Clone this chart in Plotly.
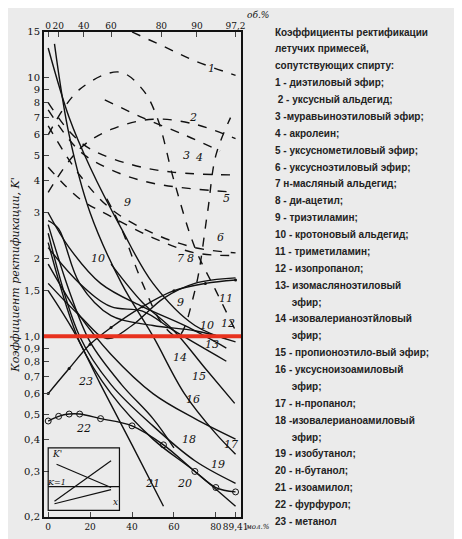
import math
import plotly.graph_objects as go

# mole % (x) and rectification coefficient K' (y) for each curve
curves = {
 "1": ([40,55,70,89.4],[15,13.2,11.6,10.2]),
 "2": ([0,15,30,50,70,89.4],[3.6,5.3,6.3,6.9,6.6,5.8]),
 "3": ([27,45,65,82],[8.2,7.0,6.0,5.2]),
 "4": ([0,10,20,40,60,89.4],[8.0,6.2,5.3,4.6,4.3,4.2]),
 "5": ([0,15,30,50,89.4],[7.5,5.2,4.4,3.9,3.6]),
 "6": ([0,15,30,50,70,89.4],[6.5,4.2,3.1,2.5,2.2,2.1]),
 "7": ([0,15,30,50,70,89.4],[4.5,3.4,2.9,2.4,2.1,2.05]),
 "8": ([0,15,28,40,55,70,89.4],[1.6,1.2,0.98,1.1,1.4,1.6,1.68]),
 "9": ([28,35,45,55,62,70,76,80,87],[3.4,2.6,1.6,1.1,1.0,1.5,3.0,5.0,7.0]),
 "10": ([0,5,15,30,50,70,85],[2.8,2.6,1.6,1.2,1.1,1.05,0.98]),
 "11": ([0,15,34,45,52,60,70,80,89.4],[6.0,9.0,10.5,9.0,7.0,4.0,2.2,1.5,1.05]),
 "12": ([0,10,20,35,50,70,89.4],[13,7,4.5,2.6,1.6,1.1,0.95]),
 "13": ([0,10,25,45,65,85],[3.0,2.2,1.6,1.3,1.1,0.9]),
 "14": ([0,15,30,45,60,85],[2.2,1.6,1.3,1.25,1.05,0.8]),
 "15": ([30,45,60,75,89],[1.9,1.35,1.05,0.75,0.55]),
 "16": ([0,15,30,50,70,89.4],[1.9,1.2,0.85,0.6,0.48,0.4]),
 "17": ([3,10,20,35,50,65,80,89.4],[13.5,6,3,1.6,1.0,0.6,0.42,0.35]),
 "18": ([0,10,20,35,50,60],[2.7,1.5,0.95,0.65,0.48,0.37]),
 "19": ([0,15,30,50,70,89.4],[2.5,1.0,0.65,0.45,0.33,0.27]),
 "20": ([0,15,30,50,70,89.4],[2.3,0.95,0.6,0.4,0.3,0.22]),
 "21": ([0,12,25,40,55],[1.5,1.05,0.65,0.38,0.22]),
 "22": ([0,5,10,15,25,40,55,70,80,89.4],[0.47,0.49,0.5,0.5,0.48,0.45,0.38,0.3,0.26,0.25]),
 "23": ([0,10,20,30,45,60,75,89.4],[0.6,0.75,0.93,1.08,1.3,1.5,1.6,1.65]),
}
dashed = {"1","2","3","4","5","6","7","9","11"}
label_pos = {"1":(78,10.8),"2":(69,7.0),"3":(66,5.0),"4":(72,4.9),"5":(85,3.4),"6":(82,2.4),
 "7":(63,2.0),"8":(68,2.0),"9":(63,1.35),"9b":(38,3.3),"10":(24,2.0),"10b":(76,1.1),"11":(85,1.4),
 "12":(86,1.12),"13":(78,0.93),"14":(63,0.83),"15":(72,0.7),"16":(69,0.57),"17":(87,0.38),
 "18":(67,0.4),"19":(81,0.32),"20":(65,0.27),"21":(50,0.27),"22":(17,0.44),"23":(18,0.67)}

yticks = [0.2,0.3,0.4,0.5,0.6,0.7,0.8,0.9,1.0,1.5,2,3,4,5,6,7,8,9,10,15]
ytext = ["0,2","0,3","0,4","0,5","0,6","0,7","0,8","0,9","1,0","1,5","2","3","4","5","6","7","8","9","10","15"]
xticks = [0,20,40,60,80,89.41]
xtext = ["0","20","40","60","80","89,41"]
top_pos = [0,4.8,17,30,54,71,89.41]
top_text = ["0","20","40","60","80","90","97,2"]
inset_a = ([3,30],[0.23,0.33])
inset_b = ([4,30],[0.32,0.26])
inset_c = ([3,30],[0.225,0.255])
legend_lines = ["Коэффициенты ректификации","летучих примесей,","сопутствующих спирту:",
 "1 - диэтиловый эфир;"," 2 - уксусный альдегид;","3 -муравьиноэтиловый эфир;","4 - акролеин;",
 "5 - уксусно","6 - уксусноэтиловый эфир;","7 н-масляный альдегид;","8 - ди-ацетил;",
 "9 - триэтиламин;","10 - кротоновый альдегид;","11 - триметиламин;","12 - изопропанол;",
 "13- изомасляноэтиловый","      эфир;","14 -изовалерианоэтйловый","      эфир;",
 "15 - пропионоэтило-вый эфир;","16 - уксусноизоамиловый","      эфир;","17 - н-пропанол;",
 "18 -изовалерианоамиловый","      эфир;","19 - изобутанол;","20 - н-бутанол;","21 - изоамилол;",
 "22 - фурфурол;","23 - метанол"]
legend_lines[7] = "5 - уксусно" + "метиловый эфир;"

fig = go.Figure()
for k,(xs,ys) in curves.items():
    mode = "lines"
    marker = None
    if k == "22":
        mode = "lines+markers"; marker = dict(symbol="circle-open", size=6, color="#111")
    if k == "23":
        mode = "lines+markers"; marker = dict(symbol="circle", size=3, color="#111")
    fig.add_trace(go.Scatter(x=xs, y=ys, mode=mode, marker=marker, line_shape="spline",
        line=dict(color="#111", width=1.4, dash="dash" if k in dashed else "solid"), showlegend=False))
for xs,ys in (inset_a,inset_b,inset_c):
    fig.add_trace(go.Scatter(x=xs,y=ys,mode="lines",line=dict(color="#111",width=1.2),showlegend=False))
fig.add_trace(go.Scatter(x=[0],y=[1],xaxis="x2",mode="markers",marker=dict(opacity=0),showlegend=False))

for k,(lx,ly) in label_pos.items():
    fig.add_annotation(x=lx,y=math.log10(ly),text="<i>"+k.rstrip("b")+"</i>",showarrow=False,
        font=dict(size=11,color="#111",family="DejaVu Serif"))

fig.add_shape(type="line",xref="paper",x0=0,x1=1,yref="y",y0=1.0,y1=1.0,line=dict(color="#e8321e",width=4))
fig.add_shape(type="rect",xref="x",yref="y",x0=0,x1=34,y0=0.212,y1=0.37,line=dict(color="#111",width=1.2))
fig.add_shape(type="line",xref="x",yref="y",x0=0,x1=34,y0=0.262,y1=0.262,line=dict(color="#111",width=1.2))
fig.add_annotation(x=4,y=math.log10(0.35),text="<i>K'</i>",showarrow=False,font=dict(size=9,color="#111"))
fig.add_annotation(x=4,y=math.log10(0.272),text="<i>K=1</i>",showarrow=False,font=dict(size=8,color="#111"))
fig.add_annotation(x=32,y=math.log10(0.228),text="<i>x</i>",showarrow=False,font=dict(size=9,color="#111"))

for i,t in enumerate(legend_lines):
    fig.add_annotation(xref="paper",yref="paper",x=1.16,y=1.0-i*0.0348,xanchor="left",yanchor="middle",
        text="<b>"+t+"</b>",showarrow=False,font=dict(size=10,color="#222",family="Liberation Sans"))
fig.add_annotation(xref="paper",yref="paper",x=1.02,y=1.05,xanchor="left",text="<i>об.%</i>",showarrow=False,
    font=dict(size=9,color="#111"))
fig.add_annotation(xref="paper",yref="paper",x=1.155,y=-0.008,xanchor="right",yanchor="top",text="<i>мол.%</i>",showarrow=False,
    font=dict(size=7,color="#111"))

fig.update_layout(width=462,height=539,margin=dict(l=36,r=229,t=24,b=30),
    paper_bgcolor="#ebebeb",plot_bgcolor="#ebebeb",
    font=dict(family="DejaVu Serif",color="#111"),
    xaxis=dict(range=[-2,92],tickvals=xticks,ticktext=xtext,showgrid=False,zeroline=False,automargin=False,
        tickangle=0,
        showline=True,linecolor="#111",linewidth=2,mirror=True,ticks="inside",tickfont=dict(size=9)),
    xaxis2=dict(range=[-2,92],overlaying="x",side="top",tickvals=top_pos,ticktext=top_text,automargin=False,
        tickangle=0,
        showgrid=False,zeroline=False,ticks="inside",tickfont=dict(size=9)),
    yaxis=dict(type="log",range=[-0.699,1.176],tickvals=yticks,ticktext=ytext,showgrid=False,zeroline=False,
        showline=True,linecolor="#111",linewidth=2,mirror=True,ticks="inside",tickfont=dict(size=10),automargin=False,
        title=dict(text="<i>Коэффициент ректификации, K'</i>",font=dict(size=11),standoff=2)))
fig.write_html("out.html")
